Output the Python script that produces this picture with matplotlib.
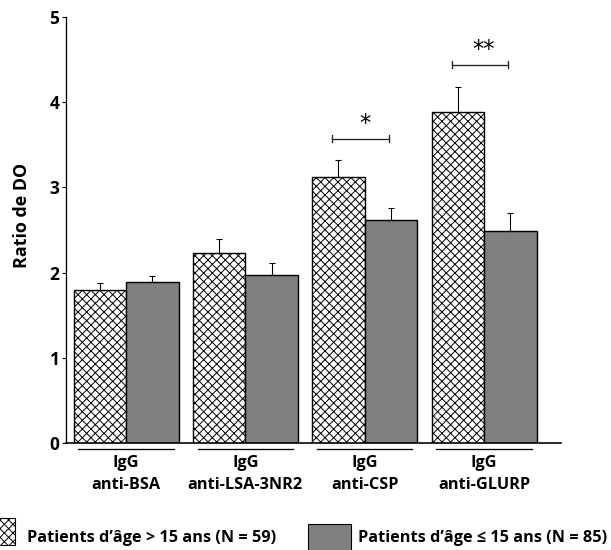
import matplotlib
matplotlib.use('Agg')
import matplotlib.pyplot as plt
from matplotlib.patches import Rectangle
import numpy as np

plt.rcParams['font.family'] = ['Open Sans', 'DejaVu Sans']
plt.rcParams['font.weight'] = 'bold'
plt.rcParams['hatch.linewidth'] = 0.9
plt.rcParams['hatch.color'] = '#333333'

# Data
groups = ['IgG\nanti-BSA', 'IgG\nanti-LSA-3NR2', 'IgG\nanti-CSP', 'IgG\nanti-GLURP']
older = [1.80, 2.23, 3.12, 3.88]        # Patients d'âge > 15 ans
older_err = [0.08, 0.16, 0.20, 0.30]
younger = [1.89, 1.97, 2.62, 2.49]      # Patients d'âge ≤ 15 ans
younger_err = [0.07, 0.14, 0.14, 0.21]
sig_groups = [2, 3]
sig_labels = ['*', '**']
sig_levels = [3.57, 4.44]

label_older = "Patients d\u2019âge > 15 ans (N = 59)"
label_younger = "Patients d\u2019âge \u2264 15 ans (N = 85)"

DPI = 78
fig = plt.figure(figsize=(611 / DPI, 550 / DPI), dpi=DPI)
ax = fig.add_axes([66 / 611, 1 - 443 / 550, (561 - 66) / 611, (443 - 17) / 550])

x = np.arange(len(groups))
w = 0.44
ax.bar(x - w / 2, older, w, color='white', edgecolor='black', hatch='xxx', linewidth=1.3, zorder=2)
ax.bar(x + w / 2, younger, w, color='#808080', edgecolor='black', linewidth=1.3, zorder=2)
ax.errorbar(x - w / 2, older, yerr=[np.zeros(4), older_err], fmt='none', ecolor='black',
            elinewidth=1.0, capsize=3, capthick=1.0, zorder=3)
ax.errorbar(x + w / 2, younger, yerr=[np.zeros(4), younger_err], fmt='none', ecolor='black',
            elinewidth=1.0, capsize=3, capthick=1.0, zorder=3)

# significance brackets
for g, lab, lvl in zip(sig_groups, sig_labels, sig_levels):
    ax.plot([g - w / 2 - 0.05, g + w / 2 - 0.02], [lvl, lvl], color='#222222', lw=1.2, clip_on=False)
    for xe in [g - w / 2 - 0.05, g + w / 2 - 0.02]:
        ax.plot([xe, xe], [lvl - 0.04, lvl + 0.04], color='#222222', lw=1.2, clip_on=False)
    ax.text(g, lvl + 0.04, lab, ha='center', va='bottom', fontsize=21, fontweight='normal',
            family='DejaVu Sans')

ax.set_xlim(-0.503, 3.645)
ax.set_ylim(0, 5)
ax.set_yticks([0, 1, 2, 3, 4, 5])
ax.set_xticks([])
ax.tick_params(axis='y', length=4, width=1.0, labelsize=16, pad=2)
for lbl in ax.get_yticklabels():
    lbl.set_fontweight('bold')
ax.spines['top'].set_visible(False)
ax.spines['right'].set_visible(False)
ax.spines['left'].set_linewidth(1.2)
ax.spines['bottom'].set_linewidth(1.5)
ax.set_ylabel('Ratio de DO', fontsize=16.5, fontweight='bold')
ax.yaxis.set_label_coords(-0.071, 0.535)

# group underlines and labels below the axis
for i, g in enumerate(groups):
    ax.plot([i - 0.4, i + 0.4], [-0.07, -0.07], color='black', lw=1.2, clip_on=False)
    ax.text(i, -0.135, g, ha='center', va='top', fontsize=15, fontweight='bold', linespacing=1.5)

# legend at the bottom
fig.add_artist(Rectangle((-12 / 611, 5 / 550), 27 / 611, 27 / 550, transform=fig.transFigure,
                         facecolor='white', edgecolor='black', hatch='xxx', linewidth=1.0))
fig.text(27 / 611, 12 / 550, label_older, ha='left', va='center', fontsize=15, fontweight='bold')
fig.add_artist(Rectangle((308 / 611, -4 / 550), 43 / 611, 30 / 550, transform=fig.transFigure,
                         facecolor='#808080', edgecolor='black', linewidth=1.0))
fig.text(358 / 611, 12 / 550, label_younger, ha='left', va='center', fontsize=15, fontweight='bold')

fig.savefig('out.png', dpi=DPI)
